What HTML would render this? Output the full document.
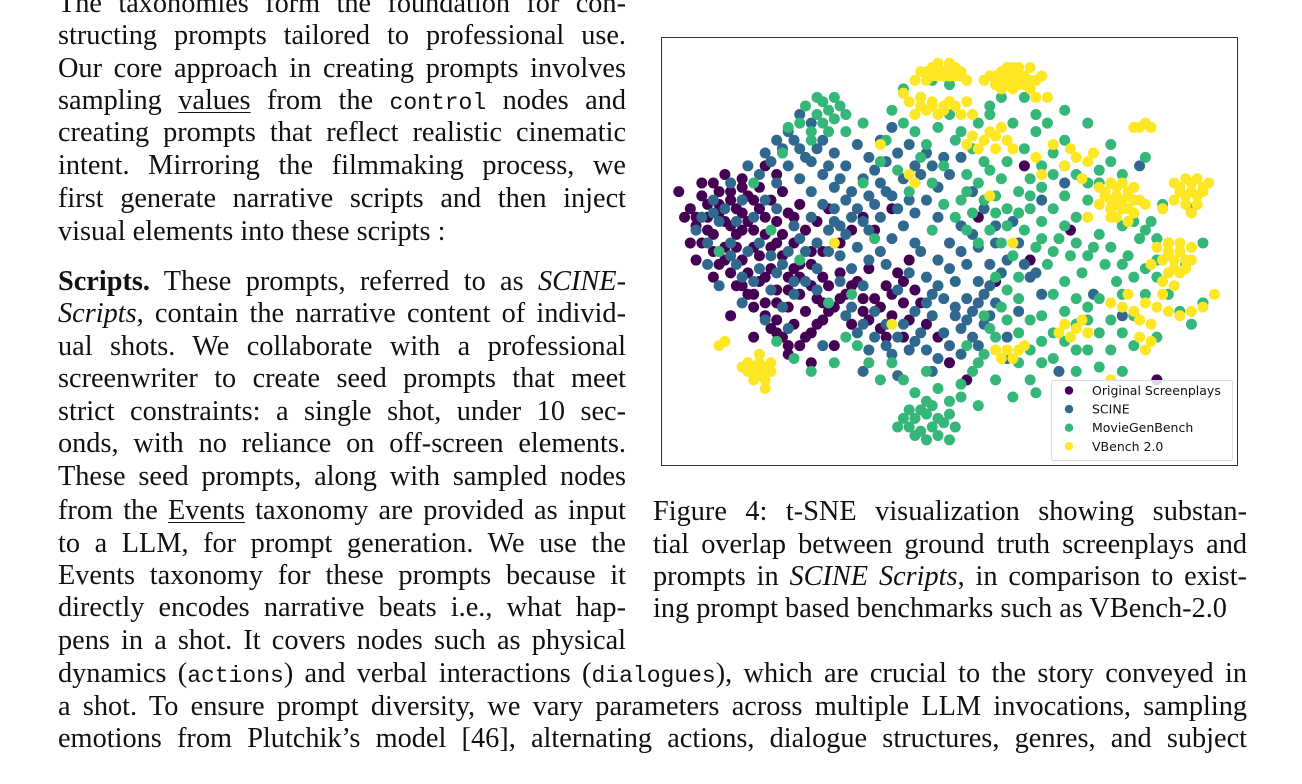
<!DOCTYPE html>
<html><head><meta charset="utf-8">
<style>
html,body{margin:0;padding:0;background:#fff;}
body{width:1302px;height:784px;position:relative;overflow:hidden;font-family:"Liberation Serif",serif;color:#111;}
.ln{position:absolute;height:33px;line-height:33px;font-size:28.3px;text-align:justify;text-align-last:justify;white-space:normal;overflow:hidden;}
.ln.l{text-align-last:left;}
.col{left:58px;width:568px;}
.full{left:58px;width:1189px;}
.cap{left:653px;width:594px;}
.m{font-family:"Liberation Mono",monospace;font-size:23px;}
u{text-decoration-thickness:1px;text-underline-offset:3px;}
</style></head><body>
<div>
<div class="ln col" style="top:-13px">The taxonomies form the foundation for con-</div>
<div class="ln col" style="top:19px">structing prompts tailored to professional use.</div>
<div class="ln col" style="top:52px">Our core approach in creating prompts involves</div>
<div class="ln col" style="top:84px">sampling <u>values</u> from the <span class="m">control</span> nodes and</div>
<div class="ln col" style="top:116px">creating prompts that reflect realistic cinematic</div>
<div class="ln col" style="top:149px">intent. Mirroring the filmmaking process, we</div>
<div class="ln col" style="top:182px">first generate narrative scripts and then inject</div>
<div class="ln col l" style="top:215px">visual elements into these scripts :</div>
<div class="ln col" style="top:265px"><b>Scripts.</b> These prompts, referred to as <i>SCINE-</i></div>
<div class="ln col" style="top:297px"><i>Scripts</i>, contain the narrative content of individ-</div>
<div class="ln col" style="top:330px">ual shots. We collaborate with a professional</div>
<div class="ln col" style="top:362px">screenwriter to create seed prompts that meet</div>
<div class="ln col" style="top:395px">strict constraints: a single shot, under 10 sec-</div>
<div class="ln col" style="top:427px">onds, with no reliance on off-screen elements.</div>
<div class="ln col" style="top:460px">These seed prompts, along with sampled nodes</div>
<div class="ln col" style="top:494px">from the <u>Events</u> taxonomy are provided as input</div>
<div class="ln col" style="top:527px">to a LLM, for prompt generation. We use the</div>
<div class="ln col" style="top:559px">Events taxonomy for these prompts because it</div>
<div class="ln col" style="top:591px">directly encodes narrative beats i.e., what hap-</div>
<div class="ln col" style="top:624px">pens in a shot. It covers nodes such as physical</div>
<div class="ln full" style="top:657px">dynamics (<span class="m">actions</span>) and verbal interactions (<span class="m">dialogues</span>), which are crucial to the story conveyed in</div>
<div class="ln full" style="top:690px">a shot. To ensure prompt diversity, we vary parameters across multiple LLM invocations, sampling</div>
<div class="ln full" style="top:722px">emotions from Plutchik’s model [46], alternating actions, dialogue structures, genres, and subject</div>
</div>
<div>
<div class="ln cap" style="top:495px">Figure 4: t-SNE visualization showing substan-</div>
<div class="ln cap" style="top:528px">tial overlap between ground truth screenplays and</div>
<div class="ln cap" style="top:560px">prompts in <i>SCINE Scripts</i>, in comparison to exist-</div>
<div class="ln cap l" style="top:592px">ing prompt based benchmarks such as VBench-2.0</div>
</div>
<svg id="chart" width="1302" height="784" style="position:absolute;left:0;top:0" xmlns="http://www.w3.org/2000/svg">
<rect x="661.5" y="37.5" width="576" height="428" fill="none" stroke="#333" stroke-width="1"/>
<g id="marks"></g>
<g id="legend"></g>
</svg>
<script>
const seriesNames = ["Original Screenplays","SCINE","MovieGenBench","VBench 2.0"];
const seriesColors = ["#440154","#31688e","#35b779","#fde725"];
const originalPts = [[5,60],[7,63],[9,66],[6,56],[8,58],[10,61],[12,64],[14,67],[11,57],[13,60],[15,63],[17,65],[7,52],[9,54],[11,51],[13,54],[15,57],[17,60],[19,62],[21,64],[10,47],[12,45],[14,48],[16,51],[18,54],[20,57],[22,59],[24,61],[13,42],[15,40],[17,43],[19,46],[21,49],[23,52],[25,55],[27,57],[16,37],[18,35],[20,38],[22,41],[24,44],[26,47],[28,50],[19,32],[21,30],[23,33],[25,36],[27,39],[29,42],[31,45],[24,28],[26,31],[28,34],[30,37],[32,40],[34,43],[36,46],[33,33],[35,36],[37,39],[39,42],[41,45],[38,32],[40,35],[42,38],[44,41],[31,52],[33,55],[35,58],[29,60],[18,70],[20,68],[9,44],[6,48],[4,58],[22,26],[46,33],[48,30],[37,55],[40,60],[43,48],[53,20],[50,24],[58,43],[55,58],[63,70],[64,48],[71,55],[86,20],[3,64],[12,35],[16,30],[26,24],[30,28],[28,44],[20,52],[23,46],[14,55],[42,30],
[6,58],[8,61],[10,64],[8,55],[10,59],[12,62],[14,65],[16,62],[12,56],[14,59],[16,55],[18,58],[9,50],[11,48],[13,51],[15,45],[17,49],[19,51],[21,54],[23,58],[14,42],[16,40],[18,44],[20,41],[22,44],[24,47],[26,50],[18,38],[20,34],[22,37],[24,40],[26,42],[28,38],[20,31],[22,28],[25,30],[27,33],[29,36],[31,39],[33,42],[35,39],[36,34],[38,37],[40,40],[42,43],[39,30],[43,34],[45,38],[7,66],[11,68],[5,52]];
const scinePts = [[6,55],[8,52],[10,57],[12,52],[9,62],[12,66],[15,70],[18,73],[20,76],[22,78],[24,74],[26,71],[28,68],[30,65],[32,62],[34,60],[36,63],[38,66],[26,64],[24,67],[22,70],[20,66],[18,62],[16,58],[14,62],[20,60],[23,56],[26,58],[28,61],[30,57],[32,54],[34,51],[36,48],[38,50],[40,53],[42,56],[44,59],[46,62],[48,65],[40,63],[42,67],[44,70],[46,73],[36,72],[34,75],[30,73],[32,70],[28,76],[26,80],[24,82],[38,76],[40,79],[30,60],[29,55],[31,49],[27,46],[25,43],[23,40],[21,37],[19,41],[17,46],[15,50],[13,47],[20,45],[22,50],[24,53],[33,46],[35,42],[37,36],[39,33],[41,30],[43,27],[45,31],[47,35],[49,39],[51,43],[53,47],[55,51],[46,44],[48,48],[50,52],[52,56],[49,31],[51,35],[53,39],[55,43],[57,47],[50,28],[52,32],[54,36],[56,40],[58,38],[54,30],[56,33],[47,40],[45,50],[43,45],[41,41],[39,47],[44,36],[40,26],[36,27],[34,31],[32,35],[60,30],[62,36],[64,44],[66,40],[60,48],[62,52],[58,56],[56,60],[54,64],[50,68],[52,72],[48,58],[44,52],[38,58],[36,55],[10,42],[14,38],[28,28],[18,34],[22,32],[8,47],[35,22],[60,25],[66,62],[70,66],[75,40],[80,35],[83,70],[69,22],[47,22],[41,21],
[7,58],[9,59],[11,60],[13,57],[17,68],[19,71],[21,74],[23,76],[25,72],[27,74],[29,70],[31,67],[33,64],[35,67],[37,69],[39,71],[41,73],[43,75],[45,68],[47,70],[49,72],[37,61],[39,64],[41,60],[43,62],[35,57],[33,58],[31,56],[27,52],[29,50],[25,50],[21,47],[19,49],[17,52],[23,43],[27,41],[31,43],[33,37],[35,33],[37,30],[39,28],[42,33],[44,29],[46,27],[48,25],[46,38],[48,42],[50,46],[52,50],[54,54],[51,37],[53,34],[55,38],[57,42],[59,45],[57,35],[55,28],[52,26],[58,52],[61,57],[63,47],[65,45],[14,44],[12,49],[16,43]];
const movieGenPts = [[28,80],[29,83],[27,82],[30,81],[26,78],[28,85],[25,84],[31,84],[24,80],[30,86],[26,76],[22,79],[43,9],[45,8],[47,9],[49,10],[44,11],[46,12],[48,11],[50,12],[42,11],[45,13],[47,14],[44,7],[48,7],[51,9],[40,83],[42,80],[39,76],[44,78],[46,75],[48,79],[50,82],[52,78],[54,74],[56,71],[53,68],[55,66],[57,69],[59,67],[58,63],[60,60],[62,64],[64,67],[66,70],[68,73],[70,76],[65,78],[61,80],[57,82],[45,86],[42,88],[47,90],[38,71],[41,69],[43,64],[47,66],[49,61],[51,58],[53,55],[55,52],[57,55],[59,52],[61,49],[63,55],[65,51],[67,47],[69,53],[71,49],[73,45],[75,51],[77,47],[79,43],[81,49],[83,53],[85,57],[87,61],[72,58],[74,62],[76,66],[78,60],[80,56],[82,62],[68,60],[70,63],[66,57],[64,60],[34,28],[36,24],[38,20],[40,24],[42,20],[44,17],[46,22],[48,18],[50,15],[52,19],[54,22],[56,26],[58,30],[60,34],[62,39],[64,34],[66,29],[68,25],[70,29],[72,33],[74,37],[76,31],[78,27],[80,31],[82,35],[84,40],[86,44],[88,40],[90,36],[92,33],[94,38],[56,35],[58,44],[60,41],[62,44],[66,35],[68,40],[70,43],[72,39],[74,27],[76,23],[64,20],[62,24],[58,20],[55,14],[61,16],[65,17],[53,28],[30,24],[26,22],[23,25],[20,29],[32,30],[29,38],[24,48],[19,55],[10,50],[16,66],[21,73],[35,66],[37,53],[33,40],[47,55],[88,52],[91,47],[86,30],[80,22],[72,22],[65,82],[63,86],[50,89],[35,80],[32,78],[92,60],[94,52],[84,72],[78,75],[74,80],[70,83],
[52,62],[54,59],[56,62],[58,59],[60,56],[62,59],[64,63],[66,65],[68,68],[70,70],[72,68],[74,66],[76,69],[78,71],[80,68],[82,57],[84,55],[86,53],[72,52],[74,49],[76,54],[78,51],[80,47],[82,44],[84,46],[86,48],[68,50],[70,56],[66,53],[62,31],[64,27],[66,24],[68,31],[70,36],[72,27],[74,34],[76,39],[78,34],[80,40],[82,28],[59,37],[57,32],[55,24],[52,16],[46,15],[43,13],[50,6],[46,6],[41,9],[57,84],[59,86],[55,80],[51,76],[49,70],[45,72],[63,74],[67,80],[60,71],[53,64],[29,78],[27,86],[32,82]];
const vbenchPts = [[45,92],[47,93],[49,92],[51,93],[46,90],[48,91],[50,91],[52,91],[44,90],[53,90],[48,94],[50,94],[57,91],[59,92],[61,92],[63,91],[65,90],[58,89],[60,90],[62,90],[64,88],[59,88],[61,88],[63,89],[66,91],[60,93],[62,93],[64,93],[56,90],[65,86],[67,86],[43,85],[45,86],[47,85],[49,84],[51,84],[53,85],[46,83],[48,82],[44,82],[52,82],[42,87],[56,76],[58,77],[60,76],[57,78],[59,79],[55,74],[58,74],[61,74],[54,77],[82,79],[84,80],[83,79],[85,79],[76,65],[78,66],[80,66],[82,65],[77,63],[79,63],[81,63],[83,62],[78,60],[80,60],[82,59],[84,61],[76,61],[79,58],[81,57],[89,66],[91,67],[93,67],[95,66],[90,64],[92,64],[94,64],[91,61],[93,61],[89,62],[92,59],[87,60],[86,51],[88,52],[90,52],[92,51],[87,48],[89,48],[91,48],[88,45],[90,45],[87,43],[89,42],[92,48],[85,47],[78,38],[80,37],[82,36],[84,38],[86,37],[88,36],[90,35],[92,36],[94,37],[83,34],[85,33],[81,40],[87,40],[70,33],[72,32],[74,31],[71,30],[73,34],[69,31],[58,27],[60,27],[62,27],[59,25],[61,25],[63,28],[15,22],[17,22],[19,22],[16,20],[18,20],[17,24],[15,24],[19,24],[14,23],[18,18],[17,26],[10,28],[11,29],[83,30],[85,29],[84,27],[70,70],[72,72],[74,71],[71,74],[73,67],[75,73],[68,75],[66,68],[65,72],[78,58],[43,68],[44,66],[30,52],[40,33],[61,52],[54,82],[38,75],[74,58],[96,40],[78,20],[57,63],[53,75],
[46,92],[48,93],[50,93],[52,92],[47,91],[49,91],[51,91],[58,91],[60,91],[62,91],[64,90],[59,90],[61,90],[63,90],[60,89],[62,89],[61,93],[45,84],[47,84],[49,83],[50,85],[77,64],[79,65],[81,64],[78,62],[80,62],[82,62],[79,61],[81,60],[90,65],[92,66],[94,65],[91,63],[93,63],[88,50],[90,50],[89,46],[91,46],[88,49],[16,22],[18,22],[16,23],[18,23],[17,21]];
const allSeries = [originalPts, scinePts, movieGenPts, vbenchPts];

const X0=661.5, X1=1237.5, Y0=465.5, Y1=37.5;
function sx(v){return X0+(v/100)*(X1-X0);}
function sy(v){return Y0-(v/100)*(Y0-Y1);}
const NS="http://www.w3.org/2000/svg";
const marks=document.getElementById('marks');
allSeries.forEach((pts,si)=>{
  const g=document.createElementNS(NS,'g');
  
  
  pts.forEach(p=>{
    const c=document.createElementNS(NS,'circle');
    c.setAttribute('cx',sx(p[0]));c.setAttribute('cy',sy(p[1]));c.setAttribute('r',5.5);
    c.setAttribute('fill',seriesColors[si]);
    
    
    g.appendChild(c);
  });
  marks.appendChild(g);
});
const lg=document.getElementById('legend');
const box=document.createElementNS(NS,'rect');
box.setAttribute('x',1051.5);box.setAttribute('y',380.5);box.setAttribute('width',181);box.setAttribute('height',80);box.setAttribute('rx',2);
box.setAttribute('fill','rgba(255,255,255,0.85)');box.setAttribute('stroke','#ddd');


lg.appendChild(box);
seriesNames.forEach((n,i)=>{
  const y=390.5+i*18.6;
  const c=document.createElementNS(NS,'circle');
  c.setAttribute('cx',1069);c.setAttribute('cy',y);c.setAttribute('r',4.2);c.setAttribute('fill',seriesColors[i]);
  
  
  lg.appendChild(c);
  const t=document.createElementNS(NS,'text');
  t.setAttribute('x',1092);t.setAttribute('y',y+4.5);t.setAttribute('font-size','12.5');
  t.setAttribute('font-family','DejaVu Sans, sans-serif');t.setAttribute('fill','#111');
  t.textContent=n;
  
  
  lg.appendChild(t);
});
</script>
</body></html>
